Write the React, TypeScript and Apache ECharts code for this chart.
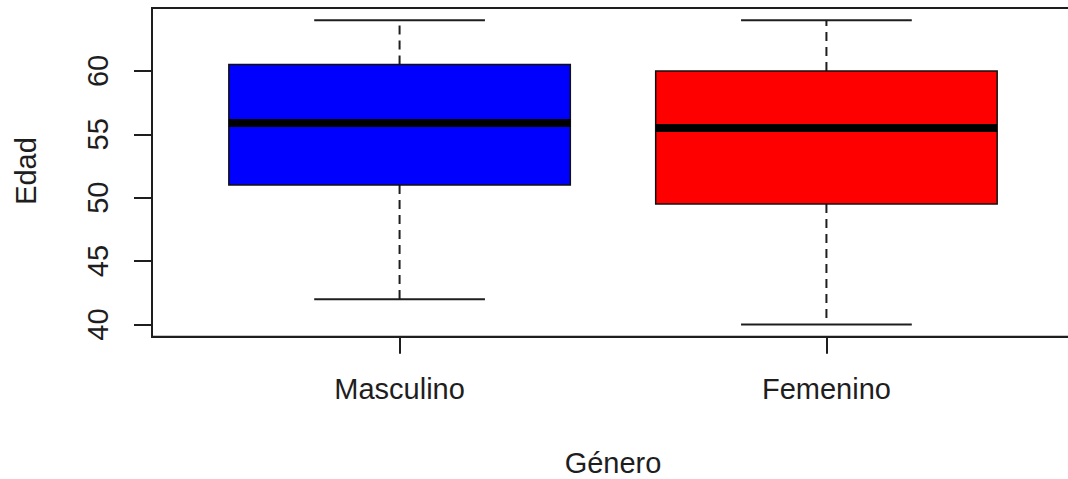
import React, { useEffect, useRef } from "react";
import * as echarts from "echarts";

const categories = ["Masculino", "Femenino"];
const minVals = [42, 40];
const q1Vals = [51, 49.5];
const medians = [55.9, 55.5];
const q3Vals = [60.5, 60];
const maxVals = [64, 64];
const boxColors = ["#0000FF", "#FF0000"];
const yTicks = [40, 45, 50, 55, 60];
const xTicks = [1, 2];
const xTitle = "Género";
const yTitle = "Edad";

const FONT = "'Liberation Sans', Arial, Helvetica, sans-serif";
const INK = "#1e1e1e";

export default function App() {
  const ref = useRef<HTMLDivElement>(null);

  useEffect(() => {
    if (!ref.current) return;
    const chart = echarts.init(ref.current, null, { renderer: "svg" });
    const data = categories.map((c, i) => [
      i + 1,
      minVals[i],
      q1Vals[i],
      medians[i],
      q3Vals[i],
      maxVals[i],
    ]);

    const renderItem = (params: any, api: any) => {
      const x = api.value(0);
      const mn = api.value(1);
      const q1 = api.value(2);
      const md = api.value(3);
      const q3 = api.value(4);
      const mx = api.value(5);
      const p = (xv: number, yv: number) => api.coord([xv, yv]);
      const color = boxColors[params.dataIndex];
      const seg = (a: number[], b: number[], style: any) => ({
        type: "line",
        shape: { x1: a[0], y1: a[1], x2: b[0], y2: b[1] },
        style: { stroke: INK, lineWidth: 2, ...style },
      });
      const tl = p(x - 0.4, q3);
      const br = p(x + 0.4, q1);
      return {
        type: "group",
        children: [
          seg(p(x, q3), p(x, mx), { lineDash: [9, 6] }),
          seg(p(x, q1), p(x, mn), { lineDash: [9, 6] }),
          seg(p(x - 0.2, mx), p(x + 0.2, mx), {}),
          seg(p(x - 0.2, mn), p(x + 0.2, mn), {}),
          {
            type: "rect",
            shape: { x: tl[0], y: tl[1], width: br[0] - tl[0], height: br[1] - tl[1] },
            style: { fill: color, stroke: "#111", lineWidth: 1.5 },
          },
          seg(p(x - 0.4, md), p(x + 0.4, md), { stroke: "#000", lineWidth: 8 }),
        ],
      };
    };

    chart.setOption({
      animation: false,
      backgroundColor: "#ffffff",
      textStyle: { fontFamily: FONT },
      grid: {
        left: 152,
        top: 8,
        width: 922,
        height: 328.7,
        show: true,
        borderColor: INK,
        borderWidth: 2,
        outerBoundsMode: "none",
      },
      xAxis: {
        type: "value",
        min: 0.42,
        max: 2.58,
        splitLine: { show: false },
        axisLine: { show: true, lineStyle: { color: INK, width: 2 } },
        axisTick: {
          show: true,
          customValues: xTicks,
          length: 17,
          lineStyle: { color: INK, width: 2 },
        },
        axisLabel: {
          customValues: xTicks,
          formatter: (v: number) => categories[Math.round(v) - 1] ?? "",
          fontSize: 29,
          color: INK,
          fontFamily: FONT,
          margin: 38,
        },
      },
      yAxis: {
        type: "value",
        min: 39.04,
        max: 64.96,
        splitLine: { show: false },
        axisLine: { show: true, lineStyle: { color: INK, width: 2 } },
        axisTick: {
          show: true,
          customValues: yTicks,
          length: 18,
          lineStyle: { color: INK, width: 2 },
        },
        axisLabel: {
          customValues: yTicks,
          rotate: 90,
          fontSize: 29,
          color: INK,
          fontFamily: FONT,
          margin: 40,
        },
      },
      graphic: [
        {
          type: "text",
          x: 26,
          y: 171,
          rotation: Math.PI / 2,
          style: {
            text: yTitle,
            fontSize: 29,
            fontFamily: FONT,
            fill: INK,
            align: "center",
            verticalAlign: "middle",
          },
        },
        {
          type: "text",
          x: 613,
          y: 463,
          style: {
            text: xTitle,
            fontSize: 29,
            fontFamily: FONT,
            fill: INK,
            align: "center",
            verticalAlign: "middle",
          },
        },
      ],
      series: [
        {
          type: "custom",
          renderItem,
          data,
          clip: false,
          encode: { x: 0, y: [1, 2, 3, 4, 5] },
        },
      ],
    });
    return () => chart.dispose();
  }, []);

  return (
    <div
      style={{
        position: "fixed",
        left: 0,
        top: 0,
        width: 1068,
        height: 479,
        overflow: "hidden",
        background: "#fff",
      }}
    >
      <div ref={ref} style={{ width: 1080, height: 479 }} />
    </div>
  );
}
